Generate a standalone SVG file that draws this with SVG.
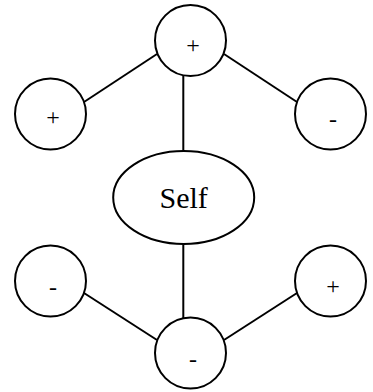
<svg xmlns="http://www.w3.org/2000/svg" width="373" height="392" viewBox="0 0 373 392">
<style>
.n{fill:#fff;stroke:#000;stroke-width:2}
.e{stroke:#000;stroke-width:2;fill:none}
.l{font-family:"Liberation Serif","Times New Roman",serif;font-size:24px;text-anchor:middle;fill:#000}
.s{font-family:"Liberation Serif","Times New Roman",serif;font-size:30px;text-anchor:middle;fill:#000}
</style>
<rect width="373" height="392" fill="#fff"/>
<g id="edges">
<line class="e" x1="84" y1="102" x2="157" y2="54"/>
<line class="e" x1="224" y1="54" x2="297" y2="102"/>
<line class="e" x1="183.3" y1="76" x2="183.3" y2="151"/>
<line class="e" x1="183.3" y1="244" x2="183.3" y2="318"/>
<line class="e" x1="84" y1="293" x2="157" y2="340"/>
<line class="e" x1="224" y1="340" x2="297" y2="293"/>
</g>
<g id="top"><circle class="n" cx="190.5" cy="40.5" r="35.5"/><text class="l" x="193" y="53">+</text></g>
<g id="left"><circle class="n" cx="50.5" cy="114" r="35.5"/><text class="l" x="53" y="125">+</text></g>
<g id="right"><circle class="n" cx="330.5" cy="114" r="35.5"/><text class="l" x="333" y="127">-</text></g>
<g id="self"><ellipse class="n" cx="183.7" cy="197.5" rx="70.5" ry="46.5"/><text class="s" x="183.7" y="208">Self</text></g>
<g id="bottomLeft"><circle class="n" cx="50.5" cy="281" r="35.5"/><text class="l" x="53" y="295">-</text></g>
<g id="bottomRight"><circle class="n" cx="330.5" cy="281" r="35.5"/><text class="l" x="333" y="294">+</text></g>
<g id="bottom"><circle class="n" cx="190.5" cy="353" r="35.5"/><text class="l" x="193" y="367">-</text></g>
</svg>
